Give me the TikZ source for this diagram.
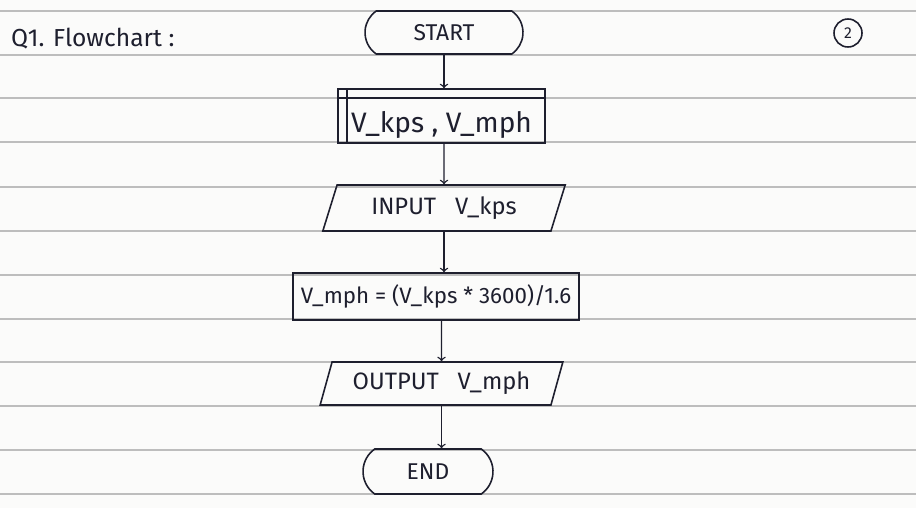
\documentclass[tikz,border=0pt]{standalone}
\usepackage{fontspec}
\setmainfont{Fira Sans}
\usetikzlibrary{
    shapes.geometric,
    shapes.misc,
}
\definecolor{ink}{HTML}{1E1F2E}
\definecolor{ruling}{HTML}{BDBDBD}
\definecolor{paper}{HTML}{FBFBFA}
\tikzset{
    rule/.style={
            draw=ruling,
            line width=0.7pt,
        }
}
\tikzset{
    inknode/.style={
            draw=ink,
            text=ink,
            line width=0.9pt,
            inner sep=0pt,
        }
}
\tikzset{
    terminalnode/.style={
            inknode,
            rounded rectangle,
            rounded rectangle arc length=110,
            font=\fontsize{13}{15}\selectfont,
        }
}
\tikzset{
    ionode/.style={
            inknode,
            trapezium,
            trapezium left angle=67,
            trapezium right angle=113,
            trapezium stretches=true,
            font=\fontsize{13.5}{16}\selectfont,
        }
}
\begin{document}
\begin{tikzpicture}[x=0.02cm, y=-0.02cm]
    % paper
    \fill[paper] (0,0) rectangle (916,508);
    \useasboundingbox (0,0) rectangle (916,508);

    % ruled lines
    \foreach \y in {11,55,98,142,187,231,275,319,362,406,450,494}
        \draw[rule] (0,\y) -- (916,\y);

    % heading
    \node[
        text=ink,
        anchor=west,
        font=\fontsize{14}{16}\selectfont,
    ] (Q) at (5,39) {Q1. Flowchart :};
    \node[
        inknode,
        circle,
        minimum size=0.56cm,
        font=\fontsize{9}{10}\selectfont,
    ] (P) at (848,33) {2};

    % start
    \node[
        terminalnode,
        minimum width=3.16cm,
        minimum height=0.86cm,
    ] (S) at (444,32.5) {START};

    % declaration
    \node[
        inknode,
        rectangle,
        minimum width=4.14cm,
        minimum height=1.08cm,
        text height=0.75cm,
        text depth=0.1cm,
        font=\fontsize{16}{18}\selectfont,
    ] (D) at (441.5,116) {V\_kps , V\_mph};
    \draw[ink, line width=0.9pt] ([yshift=-0.2cm]D.north west) -- ([yshift=-0.2cm]D.north east);
    \draw[ink, line width=0.9pt] ([xshift=0.2cm]D.north west) -- ([xshift=0.2cm]D.south west);

    % input
    \node[
        ionode,
        minimum width=4.88cm,
        minimum height=0.92cm,
    ] (I) at (444,208) {INPUT\ \ \ V\_kps};

    % process
    \node[
        inknode,
        rectangle,
        minimum width=5.72cm,
        minimum height=0.94cm,
        font=\fontsize{12.7}{15}\selectfont,
    ] (C) at (436,296.5) {V\_mph = (V\_kps * 3600)/1.6};

    % output
    \node[
        ionode,
        minimum width=4.86cm,
        minimum height=0.86cm,
    ] (O) at (441.5,383.5) {OUTPUT\ \ \ V\_mph};

    % end
    \node[
        terminalnode,
        minimum width=2.6cm,
        minimum height=0.9cm,
    ] (E) at (428,471.5) {END};

    % arrows
    \draw[->, ink, line width=0.8pt] (S.south) -- (S.south |- D.north);
    \draw[->, ink, line width=0.8pt] (D.south -| I) -- (I.north);
    \draw[->, ink, line width=0.8pt] (I.south) -- (I.south |- C.north);
    \draw[->, ink, line width=0.8pt] (C.south -| O) -- (O.north);
    \draw[->, ink, line width=0.8pt] (O.south) -- (O.south |- E.north);
\end{tikzpicture}
\end{document}
